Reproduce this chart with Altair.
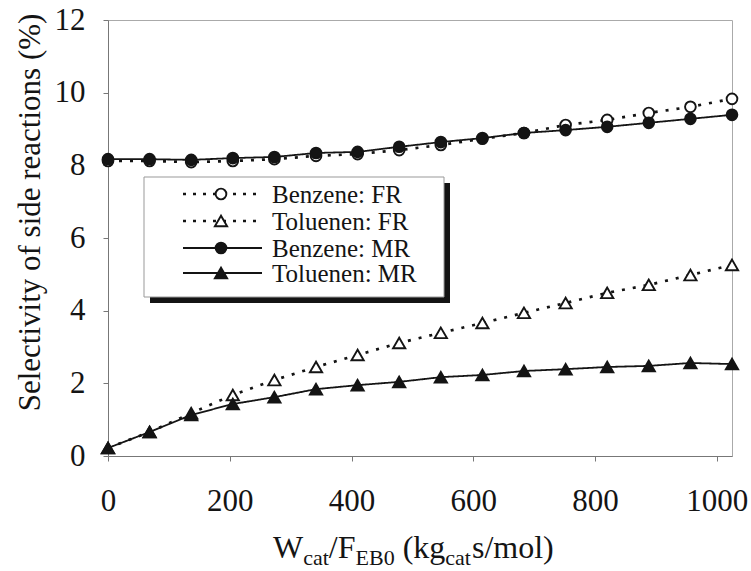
import altair as alt
import pandas as pd

# Space time W_cat/F_EB0 (kg_cat s/mol)
x_vals = [0, 68.3, 136.7, 205, 273.3, 341.7, 410, 478.3, 546.7, 615,
          683.3, 751.7, 820, 888.3, 956.7, 1025]
# Selectivity of side reactions (%)
benzene_fr = [8.12, 8.12, 8.09, 8.12, 8.17, 8.26, 8.31, 8.42, 8.56, 8.73,
              8.89, 9.11, 9.25, 9.44, 9.61, 9.83]
toluenen_fr = [0.22, 0.66, 1.18, 1.68, 2.09, 2.45, 2.78, 3.11, 3.39, 3.66,
               3.94, 4.21, 4.49, 4.71, 4.98, 5.26]
benzene_mr = [8.17, 8.17, 8.15, 8.20, 8.23, 8.34, 8.37, 8.51, 8.64, 8.75,
              8.89, 8.97, 9.06, 9.17, 9.28, 9.39]
toluenen_mr = [0.22, 0.66, 1.13, 1.43, 1.62, 1.84, 1.95, 2.04, 2.17, 2.23,
               2.34, 2.39, 2.45, 2.48, 2.56, 2.53]

series_labels = ["Benzene: FR", "Toluenen: FR", "Benzene: MR", "Toluenen: MR"]
x_ticks = [0, 200, 400, 600, 800, 1000]
y_ticks = [0, 2, 4, 6, 8, 10, 12]

FONT = "Liberation Serif"
INK = "#141414"

rows = []
for label, ys in zip(series_labels, [benzene_fr, toluenen_fr, benzene_mr, toluenen_mr]):
    compound, method = label.split(": ")
    for xv, yv in zip(x_vals, ys):
        rows.append({"x": xv, "y": yv, "series": label,
                     "compound": compound, "method": method})
df = pd.DataFrame(rows)

x_enc = alt.X("x:Q", scale=alt.Scale(domain=[0, 1025], nice=False),
              axis=alt.Axis(values=x_ticks, title=None, grid=False, format="d",
                            labelFont=FONT, labelFontSize=31, labelColor=INK,
                            labelPadding=25, tickSize=5, labelFlush=False,
                            domainColor="#777", tickColor="#777"))
y_enc = alt.Y("y:Q", scale=alt.Scale(domain=[0, 12], nice=False),
              axis=alt.Axis(values=y_ticks, grid=False, format="d",
                            title="Selectivity of side reactions (%)",
                            titleFont=FONT, titleFontSize=31,
                            titleFontWeight="normal", titleColor=INK,
                            titleAngle=-90, titleX=-78, titleY=192,
                            titleAlign="center", titleBaseline="middle",
                            labelFont=FONT, labelFontSize=31, labelColor=INK,
                            labelPadding=18, tickSize=5, labelFlush=False,
                            domainColor="#777", tickColor="#777"))

dash_scale = alt.Scale(domain=["FR", "MR"], range=[[3, 8], [1, 0]])
width_scale = alt.Scale(domain=["FR", "MR"], range=[2.7, 1.8])
fill_scale = alt.Scale(domain=["FR", "MR"], range=["white", INK])
shape_scale = alt.Scale(domain=["Benzene", "Toluenen"], range=["circle", "triangle-up"])
size_scale = alt.Scale(domain=["Benzene", "Toluenen"], range=[115, 150])

base = alt.Chart(df)

lines = base.mark_line(color=INK).encode(
    x=x_enc, y=y_enc, detail="series:N",
    strokeDash=alt.StrokeDash("method:N", scale=dash_scale, legend=None),
    strokeWidth=alt.StrokeWidth("method:N", scale=width_scale, legend=None),
)


def point_layer(method):
    return base.transform_filter(alt.datum.method == method).mark_point(
        filled=True, stroke=INK, strokeWidth=1.9, opacity=1, fillOpacity=1
    ).encode(
        x=x_enc, y=y_enc,
        fill=alt.Fill("method:N", scale=fill_scale, legend=None),
        shape=alt.Shape("compound:N", scale=shape_scale, legend=None),
        size=alt.Size("compound:N", scale=size_scale, legend=None),
    )


one = pd.DataFrame({"k": [0]})

# Legend box with drop shadow
legend_layers = [
    alt.Chart(one).mark_rect(color=INK).encode(
        x=alt.value(42), x2=alt.value(342), y=alt.value(163), y2=alt.value(283)),
    alt.Chart(one).mark_rect(fill="white", stroke="#999", strokeWidth=1).encode(
        x=alt.value(36), x2=alt.value(336), y=alt.value(157), y2=alt.value(277)),
]
legend_rows_y = [174, 201, 228, 253]
legend_style = {
    "Benzene: FR": ([3, 7], 2.4, "circle", "white", 115),
    "Toluenen: FR": ([3, 7], 2.4, "triangle-up", "white", 150),
    "Benzene: MR": ([1, 0], 1.8, "circle", INK, 115),
    "Toluenen: MR": ([1, 0], 1.8, "triangle-up", INK, 150),
}
for label, ry in zip(series_labels, legend_rows_y):
    dash, sw, shape, fill, size = legend_style[label]
    legend_layers.append(alt.Chart(one).mark_rule(
        color=INK, strokeDash=dash, strokeWidth=sw).encode(
        x=alt.value(75), x2=alt.value(154), y=alt.value(ry)))
    legend_layers.append(alt.Chart(one).mark_point(
        shape=shape, filled=True, fill=fill, stroke=INK, strokeWidth=1.9,
        opacity=1, size=size).encode(x=alt.value(113), y=alt.value(ry)))
    legend_layers.append(alt.Chart(one).mark_text(
        text=label, font=FONT, fontSize=25, color=INK, align="left",
        baseline="middle").encode(x=alt.value(164), y=alt.value(ry + 1)))

# x-axis title with subscripts, set piece by piece (gap = blank space before the piece)
times_w = {"W": .944, "c": .444, "a": .444, "t": .278, "/": .278, "F": .556,
           "E": .611, "B": .667, "0": .5, "(": .333, "k": .5,
           "g": .5, "s": .389, "m": .778, "o": .5, "l": .278, ")": .333}
title_parts = [("W", False, 0), ("cat", True, 0), ("/F", False, 0),
               ("EB0", True, 0), ("(kg", False, 8), ("cat", True, 0),
               ("s/mol)", False, 1)]
big, small = 32, 22
cursor = 165
title_layers = []
for txt, sub, gap in title_parts:
    fs = small if sub else big
    cursor += gap
    title_layers.append(alt.Chart(one).mark_text(
        text=txt, font=FONT, fontSize=fs, color=INK, align="left",
        baseline="alphabetic").encode(
        x=alt.value(cursor), y=alt.value(545 if sub else 538)))
    cursor += sum(times_w[ch] for ch in txt) * fs

chart = alt.layer(
    lines, point_layer("FR"), point_layer("MR"), *legend_layers, *title_layers
).properties(
    width=624, height=436,
    padding={"left": 108, "top": 20, "right": 19, "bottom": 115},
    autosize=alt.AutoSizeParams(type="none"),
).configure(
    background="white", font=FONT
).configure_axis(
    labelFont=FONT, titleFont=FONT
).configure_text(
    font=FONT
).configure_view(
    stroke="#aaa", strokeWidth=1
)

chart.save("out.html", embed_options={"renderer": "svg", "actions": False})
